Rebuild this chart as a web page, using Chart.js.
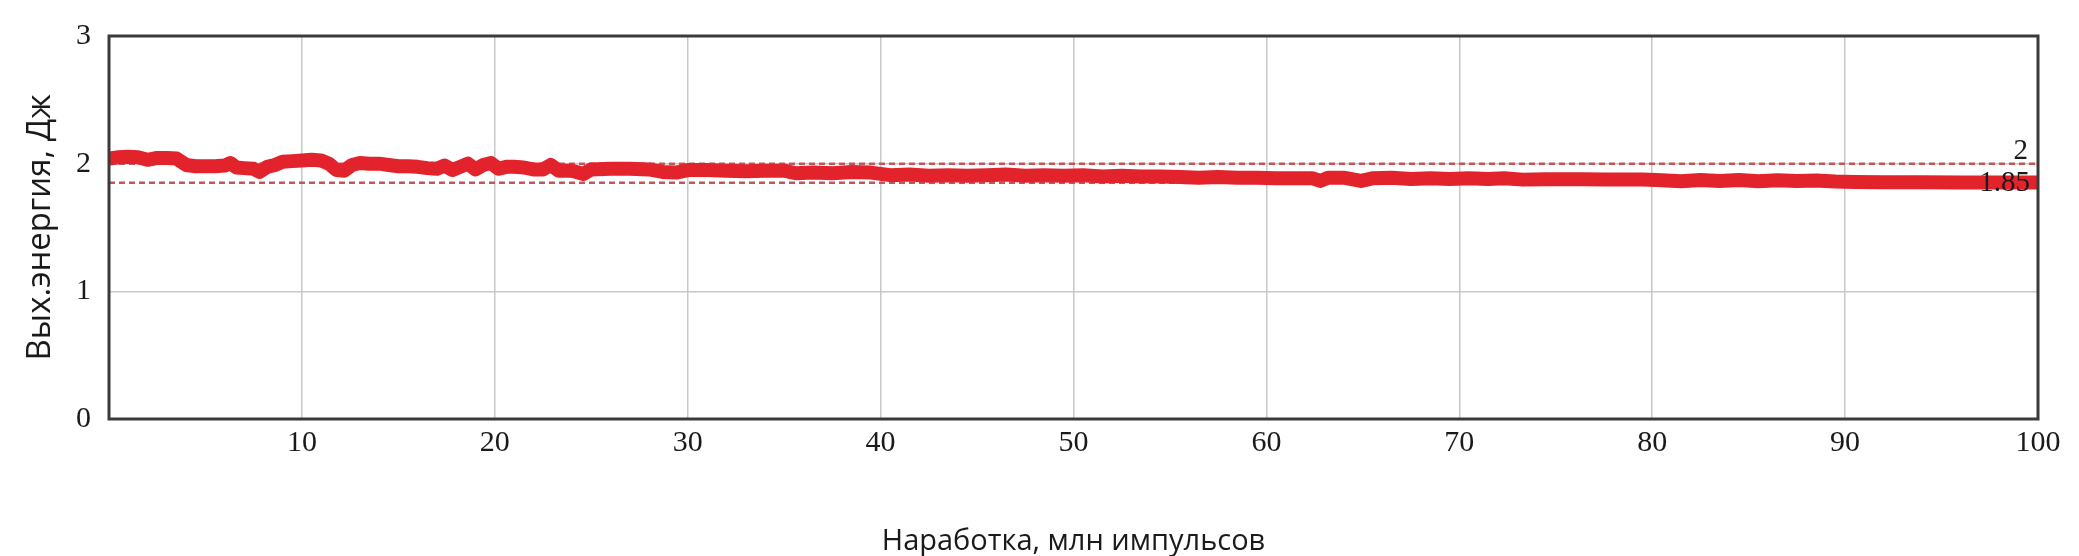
<!DOCTYPE html>
<html>
<head>
<meta charset="utf-8">
<script src="https://cdn.jsdelivr.net/npm/chart.js@4"></script>
<style>
  body { margin: 0; background: #fff; }
  #wrap { width: 2079px; height: 556px; }
</style>
</head>
<body>
<div id="wrap"><canvas id="grafico"></canvas></div>
<script>
const ctx = document.getElementById('grafico');

// наработка, млн импульсов
let narabotka = [
    0, 0.5, 1, 1.5, 2, 2.5, 3, 3.5, 4, 4.5, 5, 5.5, 6, 6.3, 6.6, 7, 7.5, 7.8, 8.2, 8.6, 9, 9.5, 10,
    10.5, 11, 11.4, 11.8, 12.2, 12.6, 13, 13.5, 14, 14.5, 15, 15.5, 16, 16.5, 17, 17.4, 17.8, 18.2, 18.6, 19, 19.4, 19.8,
    20.2, 20.6, 21, 21.5, 22, 22.5, 22.9, 23.3, 24, 24.6, 25, 26, 27, 28, 28.7, 29.4, 30, 31, 32, 33, 34, 35, 35.6, 36.5, 37.5, 38.5, 39.5,
    40.5, 41.5, 42.5, 43.5, 44.5, 45.5, 46.5, 47.5, 48.5, 49.5, 50.5, 51.5, 52.5, 53.5, 54.5, 55.5, 56.5, 57.5, 58.5, 59.5,
    60.5, 61.5, 62.4, 62.8, 63.2, 64, 64.9, 65.5, 66.5, 67.5, 68.5, 69.5, 70.5, 71.5, 72.3, 73.3, 74.5, 75.5, 76.5, 77.5, 78.5, 79.5,
    80.5, 81.5, 82.5, 83.5, 84.5, 85.5, 86.5, 87.5, 88.5, 89.5, 90.5, 92, 94, 96, 98, 100
]
// выходная энергия, Дж
let energiya = [
    2.04, 2.05, 2.055, 2.05, 2.03, 2.045, 2.045, 2.04, 1.99, 1.98, 1.98, 1.98, 1.985, 2.005, 1.97, 1.965, 1.96, 1.935, 1.975, 1.99, 2.015, 2.02, 2.025,
    2.03, 2.025, 2.0, 1.95, 1.945, 1.99, 2.005, 2.0, 2.0, 1.99, 1.98, 1.98, 1.975, 1.965, 1.96, 1.985, 1.95, 1.975, 2.0, 1.955, 1.99, 2.005,
    1.96, 1.975, 1.975, 1.97, 1.955, 1.955, 1.99, 1.945, 1.945, 1.92, 1.955, 1.96, 1.96, 1.955, 1.935, 1.93, 1.95, 1.95, 1.945, 1.94, 1.945, 1.945, 1.925, 1.93, 1.925, 1.935, 1.93,
    1.91, 1.915, 1.905, 1.91, 1.905, 1.91, 1.915, 1.905, 1.91, 1.905, 1.91, 1.9, 1.905, 1.9, 1.9, 1.895, 1.89, 1.895, 1.89, 1.89,
    1.885, 1.885, 1.885, 1.865, 1.89, 1.89, 1.865, 1.885, 1.89, 1.88, 1.885, 1.88, 1.885, 1.88, 1.885, 1.875, 1.878, 1.878, 1.878, 1.876, 1.876, 1.876,
    1.87, 1.862, 1.872, 1.865, 1.872, 1.862, 1.87, 1.865, 1.868, 1.86, 1.856, 1.855, 1.854, 1.853, 1.852, 1.852
]
// пороговые уровни
let urovni = [2, 1.85]
let urovniPodpisi = ["2", "1.85"]
let xGranicy = [0, 100]
let yTiki = [0, 1, 2, 3]

let tochki = narabotka.map((x, i) => ({ x: x, y: energiya[i] }))

let urovenNabory = urovni.map(u => ({
    data: xGranicy.map(x => ({ x: x, y: u })),
    borderColor: '#c4555a',
    borderWidth: 2.5,
    borderDash: [6, 4],
    pointRadius: 0,
    order: 2
}))

// рамка и подписи уровней
const ramka = {
    id: 'ramka',
    afterDatasetsDraw(chart) {
        const c = chart.ctx
        const a = chart.chartArea
        const ys = chart.scales.y
        c.save()
        c.strokeStyle = '#3a3a3a'
        c.lineWidth = 3
        c.strokeRect(a.left, a.top, a.right - a.left, a.bottom - a.top)
        c.fillStyle = '#1a1a1a'
        c.font = '29px "Liberation Serif"'
        c.textAlign = 'right'
        c.textBaseline = 'alphabetic'
        c.fillText(urovniPodpisi[0], a.right - 10, ys.getPixelForValue(urovni[0]) - 5)
        c.textBaseline = 'middle'
        c.fillText(urovniPodpisi[1], a.right - 8, ys.getPixelForValue(urovni[1]) + 1)
        c.restore()
    }
}

new Chart(ctx, {
    type: 'line',
    data: {
        datasets: [{
            label: 'Вых.энергия',
            data: tochki,
            borderColor: '#e3232b',
            borderWidth: 14,
            borderJoinStyle: 'round',
            borderCapStyle: 'round',
            pointRadius: 0,
            tension: 0,
            order: 1
        }, ...urovenNabory]
    },
    options: {
        responsive: true,
        maintainAspectRatio: false,
        animation: false,
        layout: { padding: { top: 31, right: 41, left: 0, bottom: 0 } },
        plugins: {
            legend: { display: false },
            tooltip: { enabled: false }
        },
        scales: {
            x: {
                type: 'linear',
                min: xGranicy[0],
                max: xGranicy[1],
                ticks: {
                    stepSize: 10,
                    padding: 6,
                    color: '#1a1a1a',
                    font: { family: '"Liberation Serif"', size: 30 },
                    callback: v => v === 0 ? '' : v
                },
                grid: { color: '#c8c8c8', lineWidth: 1.5, drawTicks: false },
                border: { display: false },
                title: {
                    display: true,
                    text: 'Наработка, млн импульсов',
                    color: '#1a1a1a',
                    font: { family: '"Open Sans"', size: 29, lineHeight: 1 },
                    padding: { top: 0, bottom: 0 }
                },
                afterFit: s => { s.height = 137 }
            },
            y: {
                min: yTiki[0],
                max: yTiki[yTiki.length - 1],
                ticks: {
                    stepSize: 1,
                    padding: 18,
                    color: '#1a1a1a',
                    font: { family: '"Liberation Serif"', size: 30 }
                },
                grid: { color: '#c8c8c8', lineWidth: 1.5, drawTicks: false },
                border: { display: false },
                title: {
                    display: true,
                    text: 'Вых.энергия, Дж',
                    color: '#1a1a1a',
                    font: { family: '"Open Sans"', size: 33, lineHeight: 1.2 },
                    padding: { top: 21, bottom: 0 }
                },
                afterFit: s => { s.width = 109 }
            }
        }
    },
    plugins: [ramka]
});
</script>
</body>
</html>
